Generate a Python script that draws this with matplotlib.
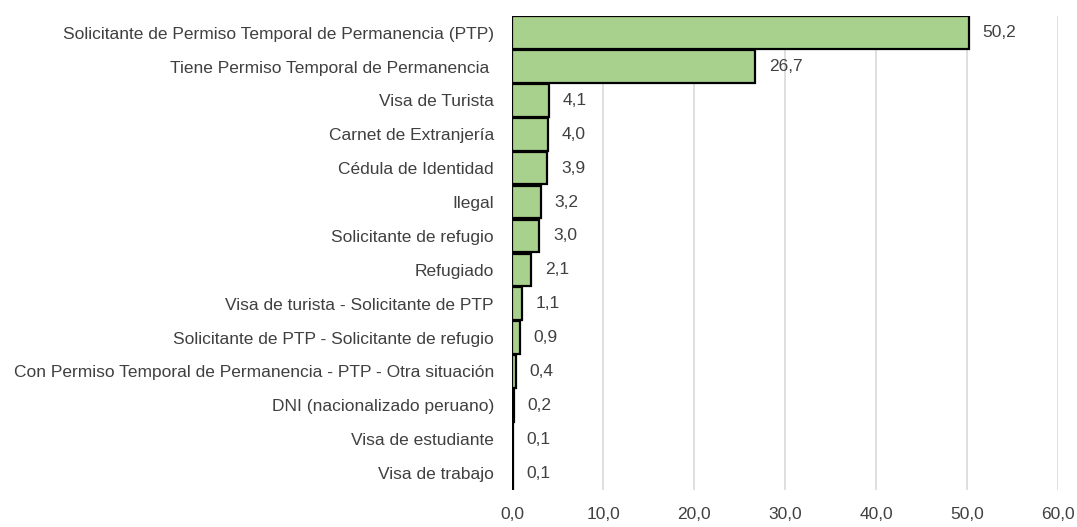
import matplotlib
matplotlib.use("Agg")
import matplotlib.pyplot as plt
from matplotlib import font_manager

# categorías y valores (%)
categorias = [
    "Solicitante de Permiso Temporal de Permanencia (PTP)",
    "Tiene Permiso Temporal de Permanencia ",
    "Visa de Turista",
    "Carnet de Extranjería",
    "Cédula de Identidad",
    "Ilegal",
    "Solicitante de refugio",
    "Refugiado",
    "Visa de turista - Solicitante de PTP",
    "Solicitante de PTP - Solicitante de refugio",
    "Con Permiso Temporal de Permanencia - PTP - Otra situación",
    "DNI (nacionalizado peruano)",
    "Visa de estudiante",
    "Visa de trabajo",
]
valores = [50.2, 26.7, 4.1, 4.0, 3.9, 3.2, 3.0, 2.1, 1.1, 0.9, 0.4, 0.2, 0.1, 0.1]
xticks = [0, 10, 20, 30, 40, 50, 60]

names = {f.name for f in font_manager.fontManager.ttflist}
fam = "Liberation Sans Narrow" if "Liberation Sans Narrow" in names else "Liberation Sans"
plt.rcParams['font.family'] = [fam, 'DejaVu Sans']
fs = 12.5 if fam == "Liberation Sans" else 14.5

fig = plt.figure(figsize=(10.77, 5.27), dpi=100)
ax = fig.add_axes([0.4754, 0.0702, 0.507, 0.900])

y = list(range(len(categorias)))
ax.barh(y, valores, height=0.96, color="#a9d18e", edgecolor="black", linewidth=1.6, zorder=3)
for yi, v in zip(y, valores):
    ax.text(v + 1.5, yi, f"{v:.1f}".replace(".", ","), va="center", ha="left",
            fontsize=fs, color="#404040", zorder=4)

ax.set_ylim(len(categorias) - 0.5, -0.5)
ax.set_xlim(0, 60)
ax.set_yticks(y)
ax.set_yticklabels(categorias, fontsize=fs, color="#404040")
ax.set_xticks(xticks)
ax.set_xticklabels([f"{t:.1f}".replace(".", ",") for t in xticks], fontsize=fs, color="#404040")
ax.tick_params(axis="both", length=0)
ax.tick_params(axis="y", pad=13)
ax.tick_params(axis="x", pad=12)
ax.grid(axis="x", color="#d9d9d9", linewidth=1.2, zorder=0)
for s in ax.spines.values():
    s.set_visible(False)

fig.savefig("out.png", dpi=100)
